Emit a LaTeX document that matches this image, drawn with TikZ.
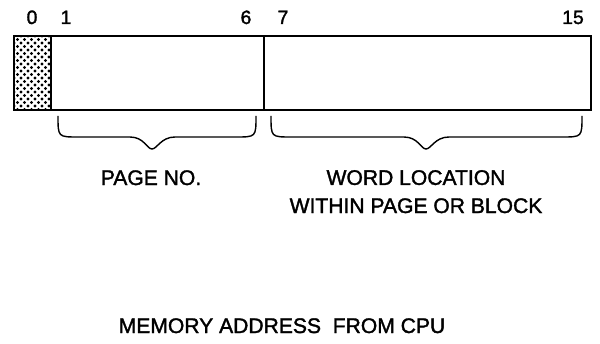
\documentclass[tikz,border=0pt]{standalone}
\usepackage{fontspec}
\setmainfont{Liberation Sans}[FakeBold=1.6]
\usetikzlibrary{positioning}
\begin{document}
\begin{tikzpicture}[x=0.03cm, y=-0.03cm,
  field/.style={draw, line width=1.4pt, minimum height=2.22cm, inner sep=0pt, outer sep=0pt},
  bitno/.style={anchor=base, font=\fontsize{16.5}{20}\selectfont},
  caption/.style={anchor=base, align=center, font=\fontsize{18}{24}\selectfont}]
\useasboundingbox (0,0) rectangle (600,344);
\node[field, minimum width=1.11cm] (parity) at (32.5,73) {};
\node[field, minimum width=6.39cm] (page) at (157.5,73) {};
\node[field, minimum width=9.81cm] (word) at (427.5,73) {};
% dotted bit 0
\begin{scope}
\clip (parity.south west) rectangle (parity.north east);
\foreach \r in {0,...,22}
  \foreach \c in {0,...,6}
    \fill ({14+7*\c+3.5*mod(\r,2)},{36+3.5*\r}) circle (1.35pt);
\end{scope}
\node[bitno] (b0) at (32,24) {0};
\node[bitno] (b1) at (66,24) {1};
\node[bitno] (b6) at (246,24) {6};
\node[bitno] (b7) at (283,24) {7};
\node[bitno] (b15) at (573,24) {15};
% braces
\draw[line width=1.2pt] (58,116) .. controls (58,137) .. (78,137) -- (130,137)
  .. controls (144,137) and (147,149) .. (152,149)
  .. controls (157,149) and (161,137) .. (175,137) -- (236,137)
  .. controls (256,137) .. (256,116);
\draw[line width=1.2pt] (271,116) .. controls (271,137) .. (291,137) -- (404,137)
  .. controls (418,137) and (421,149) .. (426,149)
  .. controls (431,149) and (435,137) .. (449,137) -- (562,137)
  .. controls (582,137) .. (582,116);
\node[caption] (pageno) at (151,185) {PAGE NO.};
\node[caption] (wordloc) at (416,213) {WORD LOCATION\\WITHIN PAGE OR BLOCK};
\node[caption] (title) at (282,333) {MEMORY ADDRESS\ \ FROM CPU};
\end{tikzpicture}
\end{document}
